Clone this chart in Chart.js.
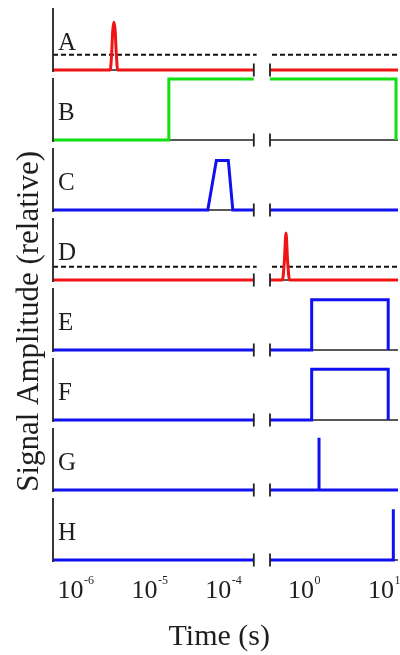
<!DOCTYPE html>
<html>
<head>
<meta charset="utf-8">
<script src="https://cdn.jsdelivr.net/npm/chart.js@4.4.1/dist/chart.umd.min.js"></script>
<style>
  html, body { margin: 0; padding: 0; background: #ffffff; }
  canvas { display: block; }
</style>
</head>
<body>
<canvas id="c" width="400" height="655"></canvas>
<script>
// ================= DATA =================
const rowLabels = ['A', 'B', 'C', 'D', 'E', 'F', 'G', 'H'];

// [time (s), relative amplitude] — early window (left panel)
const A_early = [[5.8e-7, 0], [3.45e-6, 0], [3.6e-6, 0.25], [3.73e-6, 0.62], [3.87e-6, 0.75], [4.02e-6, 0.62], [4.17e-6, 0.25], [4.35e-6, 0], [3.02e-4, 0]];
const B_early = [[5.8e-7, 0], [2.14e-5, 0], [2.14e-5, 0.96], [3.02e-4, 0.96]];
const C_early = [[5.8e-7, 0], [7.2e-5, 0], [9.4e-5, 0.78], [1.365e-4, 0.78], [1.57e-4, 0], [3.02e-4, 0]];
const D_early = [[5.8e-7, 0], [3.02e-4, 0]];
const E_early = [[5.8e-7, 0], [3.02e-4, 0]];
const F_early = [[5.8e-7, 0], [3.02e-4, 0]];
const G_early = [[5.8e-7, 0], [3.02e-4, 0]];
const H_early = [[5.8e-7, 0], [3.02e-4, 0]];

// [time (s), relative amplitude] — late window (right panel)
const A_late = [[0.41, 0], [16.3, 0]];
const B_late = [[0.41, 0.96], [15.4, 0.96], [15.4, 0]];
const C_late = [[0.41, 0], [16.3, 0]];
const D_late = [[0.41, 0], [0.585, 0], [0.62, 0.3], [0.65, 0.74], [0.68, 0.3], [0.72, 0], [16.3, 0]];
const E_late = [[0.41, 0], [1.36, 0], [1.36, 0.79], [12.3, 0.79], [12.3, 0]];
const F_late = [[0.41, 0], [1.36, 0], [1.36, 0.8], [12.3, 0.8], [12.3, 0]];
const G_late = [[0.41, 0], [1.68, 0], [1.68, 0.82], [1.68, 0], [16.3, 0]];
const H_late = [[0.41, 0], [14.25, 0], [14.25, 0.8]];

// detection thresholds (dashed) for rows A and D
const A_threshold_early = [[5.8e-7, 0.24], [3.3e-4, 0.24]];
const A_threshold_late = [[0.434, 0.24], [16.3, 0.24]];
const D_threshold_early = [[5.8e-7, 0.21], [3.3e-4, 0.21]];
const D_threshold_late = [[0.434, 0.21], [16.3, 0.21]];

// axis windows and tick exponents
const earlyRange = [5.8e-7, 5e-4];
const lateRange = [0.41, 16.3];
const earlyEnd = 3.02e-4;          // where the early window is cut (axis break)
const tickExpEarly = [-6, -5, -4];
const tickExpLate = [0, 1];

// ================= STYLE =================
const RED = '#f01414', GREEN = '#10e010', BLUE = '#1010f0';
const rowColors = [RED, GREEN, BLUE, RED, BLUE, BLUE, BLUE, BLUE];
const LABEL_Y = 0.62;
const FONT = 'Liberation Serif';
const TEXT = '#1e1e1e';
const TICK_SIZE = 26, SUP_SIZE = 12;
const Y_BAND = 44.2;   // width reserved left of the panels (title band + label padding)

const earlySeries = { A: A_early, B: B_early, C: C_early, D: D_early, E: E_early, F: F_early, G: G_early, H: H_early };
const lateSeries = { A: A_late, B: B_late, C: C_late, D: D_late, E: E_late, F: F_late, G: G_late, H: H_late };

const datasets = [];
rowLabels.forEach((lab, i) => {
  datasets.push({
    data: earlySeries[lab], xAxisID: 'xEarly', yAxisID: 'y' + lab,
    borderColor: rowColors[i], borderWidth: 3, pointRadius: 0, order: 1,
    cubicInterpolationMode: (lab === 'A') ? 'monotone' : 'default', tension: 0
  });
  datasets.push({
    data: lateSeries[lab], xAxisID: 'xLate', yAxisID: 'y' + lab,
    borderColor: rowColors[i], borderWidth: 3, pointRadius: 0, order: 1,
    cubicInterpolationMode: (lab === 'D') ? 'monotone' : 'default', tension: 0
  });
});
[['A', A_threshold_early, A_threshold_late], ['D', D_threshold_early, D_threshold_late]].forEach(([lab, e, l]) => {
  datasets.push({ data: e, xAxisID: 'xEarly', yAxisID: 'y' + lab, borderColor: '#111', borderWidth: 2, borderDash: [5, 3], pointRadius: 0, order: 2 });
  datasets.push({ data: l, xAxisID: 'xLate', yAxisID: 'y' + lab, borderColor: '#111', borderWidth: 2, borderDash: [5, 3], pointRadius: 0, order: 2 });
});

const xCommon = {
  type: 'logarithmic', position: 'bottom', stack: 'time',
  grid: { display: true, color: 'rgba(0,0,0,0)', drawOnChartArea: false, drawTicks: true, tickLength: 10 },
  border: { display: false },
  afterFit: s => { s.paddingLeft = 0; s.paddingRight = 0; },
  ticks: { padding: 0, autoSkip: false, maxRotation: 0, minRotation: 0, color: TEXT, font: { family: FONT, size: TICK_SIZE, lineHeight: 30 / TICK_SIZE }, callback: () => '10' }
};

const scales = {
  xEarly: Object.assign({}, xCommon, {
    min: earlyRange[0], max: earlyRange[1], stackWeight: 217, weight: 0,
    afterBuildTicks: s => { s.ticks = tickExpEarly.map(e => ({ value: Number('1e' + e) })); },
    title: { display: true, text: 'Time (s)', align: 'end', color: TEXT, font: { family: FONT, size: 30 }, padding: { top: 12.6, bottom: 0 } }
  }),
  xLate: Object.assign({}, xCommon, {
    min: lateRange[0], max: lateRange[1], stackWeight: 128, weight: 1,
    afterBuildTicks: s => { s.ticks = tickExpLate.map(e => ({ value: Number('1e' + e) })); },
    title: { display: false }
  })
};

rowLabels.forEach((lab, i) => {
  scales['y' + lab] = {
    type: 'linear', position: 'left', stack: 'rows', stackWeight: 1, weight: rowLabels.length - i,
    min: -0.1, max: 1.0,
    afterBuildTicks: s => { s.ticks = [{ value: LABEL_Y }]; },
    afterFit: s => { s.width = Y_BAND; },
    ticks: { mirror: true, padding: 5, align: 'start', color: TEXT, font: { family: FONT, size: 25 }, callback: () => lab },
    grid: { display: false, drawTicks: false },
    border: { display: false },
    title: lab === 'E'
      ? { display: true, text: 'Signal Amplitude (relative)', color: TEXT, font: { family: FONT, size: 31 }, padding: { top: 2, bottom: 0 } }
      : { display: false }
  };
});

const panelDecor = {
  id: 'panelDecor',
  beforeDatasetsDraw(chart) {
    const { ctx, chartArea, scales: sc } = chart;
    const x0 = chartArea.left;
    const x1 = sc.xEarly.getPixelForValue(earlyEnd);
    const x2 = sc.xLate.getPixelForValue(lateRange[0]);
    const x3 = chartArea.right;
    ctx.save();
    ctx.strokeStyle = '#222';
    ctx.lineWidth = 1.5;
    rowLabels.forEach(lab => {
      const y0 = sc['y' + lab].getPixelForValue(0);
      ctx.beginPath();
      ctx.moveTo(x0, y0); ctx.lineTo(x1, y0);
      ctx.moveTo(x2, y0); ctx.lineTo(x3, y0);
      ctx.stroke();
    });
    ctx.restore();
  },
  afterDatasetsDraw(chart) {
    const { ctx, chartArea, scales: sc } = chart;
    const x0 = chartArea.left;
    const x1 = sc.xEarly.getPixelForValue(earlyEnd);
    const x2 = sc.xLate.getPixelForValue(lateRange[0]);
    ctx.save();
    ctx.strokeStyle = '#222';
    ctx.lineWidth = 1.8;
    rowLabels.forEach(lab => {
      const ys = sc['y' + lab];
      const y0 = ys.getPixelForValue(0);
      const yt = ys.getPixelForValue(ys.max);
      ctx.beginPath();
      ctx.moveTo(x0, yt + 1.5); ctx.lineTo(x0, y0 + 2);
      ctx.moveTo(x1, y0 - 6.5); ctx.lineTo(x1, y0 + 6.5);
      ctx.moveTo(x2, y0 - 6.5); ctx.lineTo(x2, y0 + 6.5);
      ctx.stroke();
    });
    ctx.restore();
  },
  afterDraw(chart) {
    // exponents of the "10" tick labels, drawn as raised small text
    const { ctx, scales: sc } = chart;
    ctx.save();
    ctx.fillStyle = TEXT;
    ctx.font = TICK_SIZE + 'px "' + FONT + '"';
    const baseW = ctx.measureText('10').width;
    ctx.font = SUP_SIZE + 'px "' + FONT + '"';
    ctx.textAlign = 'left';
    ctx.textBaseline = 'alphabetic';
    [['xEarly', tickExpEarly], ['xLate', tickExpLate]].forEach(([id, exps]) => {
      const s = sc[id];
      exps.forEach(e => {
        const px = s.getPixelForValue(Number('1e' + e));
        ctx.fillText(String(e), px + baseW / 2 + 0.5, s.top + 18);
      });
    });
    ctx.restore();
  }
};

new Chart(document.getElementById('c'), {
  type: 'line',
  data: { datasets },
  options: {
    responsive: false,
    devicePixelRatio: 1,
    animation: false,
    events: [],
    layout: { padding: { left: 8.8, top: 6.4, right: 2, bottom: 0 } },
    plugins: { legend: { display: false }, tooltip: { enabled: false } },
    scales
  },
  plugins: [panelDecor]
});
</script>
</body>
</html>
